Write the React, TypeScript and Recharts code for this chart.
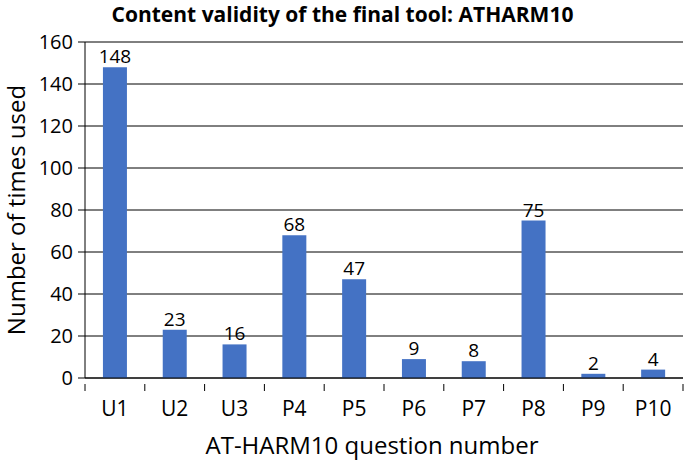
import { BarChart, Bar, XAxis, YAxis, CartesianGrid, LabelList } from 'recharts';

const questions = ['U1', 'U2', 'U3', 'P4', 'P5', 'P6', 'P7', 'P8', 'P9', 'P10'];
const timesUsed = [148, 23, 16, 68, 47, 9, 8, 75, 2, 4];
const yTicks = [0, 20, 40, 60, 80, 100, 120, 140, 160];

const data = questions.map((q, i) => ({ question: q, used: timesUsed[i] }));

const W = 685;
const H = 460;
const yAxisWidth = 85;
const xAxisHeight = 82;
const margin = { top: 42, right: 2, left: 0, bottom: 0 };
const font = '"Open Sans", Calibri, sans-serif';

// category ticks sit between the bars, like the original spreadsheet chart
const XTick = (props: any) => {
    const { x, y, payload, index } = props;
    const step = (W - yAxisWidth - margin.right) / questions.length;
    const top = y - 2;
    return (
        <g>
            <line x1={x - step / 2} y1={top} x2={x - step / 2} y2={top + 7} stroke="#000" />
            {index === questions.length - 1 && (
                <line x1={x + step / 2} y1={top} x2={x + step / 2} y2={top + 7} stroke="#000" />
            )}
            <text x={x} y={top + 32} textAnchor="middle" fontSize={21} fontFamily={font} fill="#000">
                {payload.value}
            </text>
        </g>
    );
};

export default function App() {
    return (
        <div style={{ position: 'relative', width: W, height: H, background: '#fff' }}>
            <style>{'body{margin:0}'}</style>
            <div
                style={{
                    position: 'absolute',
                    top: 0,
                    width: W,
                    textAlign: 'center',
                    fontFamily: font,
                    fontWeight: 700,
                    fontSize: 21,
                    lineHeight: '28px',
                }}
            >
                Content validity of the final tool: ATHARM10
            </div>
            <BarChart width={W} height={H} data={data} margin={margin} barCategoryGap="30%">
                <CartesianGrid vertical={false} stroke="#000" strokeWidth={1} />
                <XAxis
                    dataKey="question"
                    height={xAxisHeight}
                    tickLine={false}
                    stroke="#000"
                    tick={<XTick />}
                    interval={0}
                    label={{
                        value: 'AT-HARM10 question number',
                        position: 'insideBottom',
                        offset: 6,
                        dx: -12,
                        fontSize: 24,
                        fontFamily: font,
                        fill: '#000',
                    }}
                />
                <YAxis
                    domain={[0, 160]}
                    ticks={yTicks}
                    interval={0}
                    width={yAxisWidth}
                    stroke="#000"
                    tickSize={7}
                    tickMargin={5}
                    tick={{ fontSize: 20, fontFamily: font, fill: '#000' }}
                    label={{
                        value: 'Number of times used',
                        angle: -90,
                        position: 'insideLeft',
                        offset: 16,
                        style: { textAnchor: 'middle' },
                        fontSize: 24,
                        fontFamily: font,
                        fill: '#000',
                    }}
                />
                <Bar dataKey="used" fill="#4472C4" isAnimationActive={false}>
                    <LabelList
                        dataKey="used"
                        position="top"
                        offset={4}
                        fontSize={19}
                        fontFamily={font}
                        fill="#000"
                    />
                </Bar>
            </BarChart>
        </div>
    );
}
